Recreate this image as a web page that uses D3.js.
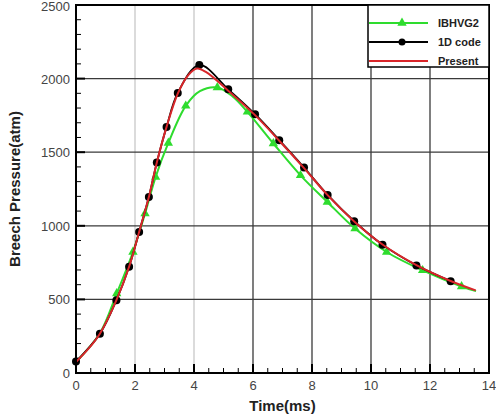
<!DOCTYPE html>
<html>
<head>
<meta charset="utf-8">
<script src="https://cdn.jsdelivr.net/npm/d3@7"></script>
<style>
  body { margin: 0; background: #fff; }
  text { font-family: Arial, "Liberation Sans", sans-serif; }
</style>
</head>
<body>
<script>
// series data (time in ms, pressure in atm)
var presentTime = [0, 0.4, 0.81, 1.37, 1.8, 2.14, 2.47, 2.74, 3.07, 3.45, 3.8, 4.1, 4.4, 5.16, 6.07, 6.89, 7.73, 8.53, 9.43, 10.39, 11.54, 12.7, 13.55];
var presentPressure = [75, 160, 267, 495, 722, 958, 1196, 1430, 1672, 1898, 2022, 2068, 2045, 1918, 1752, 1578, 1392, 1208, 1030, 873, 733, 625, 561];

var codeTime = [0, 0.81, 1.37, 1.8, 2.14, 2.47, 2.74, 3.07, 3.45, 4.18, 5.16, 6.07, 6.89, 7.73, 8.53, 9.43, 10.39, 11.54, 12.7];
var codePressure = [78, 267, 495, 722, 958, 1196, 1430, 1672, 1903, 2092, 1927, 1758, 1582, 1396, 1210, 1031, 872, 731, 624];

var ibhvgTime = [0, 0.81, 1.38, 1.93, 2.34, 2.7, 3.13, 3.72, 4.2, 4.79, 5.3, 5.81, 6.69, 7.61, 8.52, 9.46, 10.53, 11.75, 13.07, 13.56];
var ibhvgPressure = [75, 270, 540, 822, 1083, 1332, 1563, 1815, 1915, 1940, 1880, 1774, 1559, 1343, 1162, 981, 822, 697, 588, 556];
var ibhvgMarked = [2, 3, 4, 5, 6, 7, 9, 11, 12, 13, 14, 15, 16, 17, 18];

var xTicks = [0, 2, 4, 6, 8, 10, 12, 14];
var yTicks = [0, 500, 1000, 1500, 2000, 2500];
var legendNames = ['IBHVG2', '1D code', 'Present'];

var width = 496, height = 414;
var margin = {top: 5, right: 7, bottom: 41, left: 76};

var svg = d3.select('body').append('svg')
  .attr('width', width)
  .attr('height', height);

var x = d3.scaleLinear().domain([0, 14]).range([margin.left, width - margin.right]);
var y = d3.scaleLinear().domain([0, 2500]).range([height - margin.bottom, margin.top]);

// grid
svg.append('g').selectAll('line')
  .data(xTicks.slice(1, -1))
  .enter().append('line')
  .attr('x1', function(d) { return x(d); })
  .attr('x2', function(d) { return x(d); })
  .attr('y1', y(0)).attr('y2', y(2500))
  .attr('stroke', function(d) { return d < 5 ? '#c8c8c8' : '#3a3a3a'; })
  .attr('stroke-width', 1.3);

svg.append('g').selectAll('line')
  .data(yTicks.slice(1, -1))
  .enter().append('line')
  .attr('x1', x(0)).attr('x2', x(14))
  .attr('y1', function(d) { return y(d); })
  .attr('y2', function(d) { return y(d); })
  .attr('stroke', '#3a3a3a')
  .attr('stroke-width', 1.3);

// minor ticks (inside)
svg.append('g').selectAll('line')
  .data(d3.range(0, 14.01, 0.5))
  .enter().append('line')
  .attr('x1', function(d) { return x(d); })
  .attr('x2', function(d) { return x(d); })
  .attr('y1', y(0))
  .attr('y2', function(d) { return y(0) - (d % 2 === 0 ? 9 : 5); })
  .attr('stroke', '#000')
  .attr('stroke-width', function(d) { return d % 2 === 0 ? 2 : 1; });

svg.append('g').selectAll('line')
  .data(d3.range(0, 2501, 100))
  .enter().append('line')
  .attr('x1', x(0))
  .attr('x2', function(d) { return x(0) + (d % 500 === 0 ? 9 : 5); })
  .attr('y1', function(d) { return y(d); })
  .attr('y2', function(d) { return y(d); })
  .attr('stroke', '#000')
  .attr('stroke-width', function(d) { return d % 500 === 0 ? 2 : 1; });

// tick labels
svg.append('g').selectAll('text')
  .data(xTicks)
  .enter().append('text')
  .attr('x', function(d) { return x(d); })
  .attr('y', y(0) + 17)
  .attr('text-anchor', 'middle')
  .attr('font-size', 13)
  .attr('fill', '#444')
  .text(function(d) { return d; });

svg.append('g').selectAll('text')
  .data(yTicks)
  .enter().append('text')
  .attr('x', x(0) - 6)
  .attr('y', function(d) { return Math.max(y(d) + 5, 11); })
  .attr('text-anchor', 'end')
  .attr('font-size', 13)
  .attr('fill', '#444')
  .text(function(d) { return d; });

// axis titles
svg.append('text')
  .attr('x', (x(0) + x(14)) / 2)
  .attr('y', height - 3)
  .attr('text-anchor', 'middle')
  .attr('font-size', 15)
  .attr('font-weight', 'bold')
  .attr('fill', '#222')
  .text('Time(ms)');

svg.append('text')
  .attr('transform', 'translate(20,' + (y(0) + y(2500)) / 2 + ') rotate(-90)')
  .attr('text-anchor', 'middle')
  .attr('font-size', 15)
  .attr('font-weight', 'bold')
  .attr('fill', '#222')
  .text('Breech Pressure(atm)');

// lines
var line = d3.line()
  .x(function(d) { return x(d[0]); })
  .y(function(d) { return y(d[1]); })
  .curve(d3.curveCatmullRom.alpha(0.5));

var ibhvg = d3.zip(ibhvgTime, ibhvgPressure);
var code = d3.zip(codeTime, codePressure);
var present = d3.zip(presentTime, presentPressure);

var tri = d3.symbol().type(d3.symbolTriangle).size(38);

svg.append('path')
  .datum(ibhvg)
  .attr('d', line)
  .attr('fill', 'none')
  .attr('stroke', '#2edc2e')
  .attr('stroke-width', 2);

svg.append('g').selectAll('path')
  .data(ibhvgMarked.map(function(i) { return ibhvg[i]; }))
  .enter().append('path')
  .attr('d', tri)
  .attr('transform', function(d) { return 'translate(' + x(d[0]) + ',' + y(d[1]) + ')'; })
  .attr('fill', '#2edc2e');

svg.append('path')
  .datum(code)
  .attr('d', line)
  .attr('fill', 'none')
  .attr('stroke', '#000')
  .attr('stroke-width', 1.8);

svg.append('g').selectAll('circle')
  .data(code)
  .enter().append('circle')
  .attr('cx', function(d) { return x(d[0]); })
  .attr('cy', function(d) { return y(d[1]); })
  .attr('r', 4)
  .attr('fill', '#000');

svg.append('path')
  .datum(present)
  .attr('d', line)
  .attr('fill', 'none')
  .attr('stroke', '#d9262a')
  .attr('stroke-width', 2);

// frame
svg.append('rect')
  .attr('x', x(0)).attr('y', y(2500))
  .attr('width', x(14) - x(0))
  .attr('height', y(0) - y(2500))
  .attr('fill', 'none')
  .attr('stroke', '#000')
  .attr('stroke-width', 2);

// legend
var lx = 368, ly = y(2500), lw = x(14) - lx, lh = 62;
var legend = svg.append('g');
legend.append('rect')
  .attr('x', lx).attr('y', ly)
  .attr('width', lw).attr('height', lh)
  .attr('fill', '#fff')
  .attr('stroke', '#000')
  .attr('stroke-width', 1.5);

var legendColors = ['#2edc2e', '#000', '#d9262a'];
var rows = legend.selectAll('g')
  .data(legendNames)
  .enter().append('g')
  .attr('transform', function(d, i) { return 'translate(0,' + (ly + 18 + i * 19) + ')'; });

rows.append('line')
  .attr('x1', lx + 1).attr('x2', lx + 60)
  .attr('stroke', function(d, i) { return legendColors[i]; })
  .attr('stroke-width', 2);

rows.filter(function(d, i) { return i === 0; })
  .append('path')
  .attr('d', tri)
  .attr('transform', 'translate(' + (lx + 34) + ',0)')
  .attr('fill', legendColors[0]);

rows.filter(function(d, i) { return i === 1; })
  .append('circle')
  .attr('cx', lx + 34).attr('r', 3.5)
  .attr('fill', '#000');

rows.append('text')
  .attr('x', lx + 70)
  .attr('y', 4)
  .attr('font-size', 11)
  .attr('font-weight', 'bold')
  .attr('fill', '#222')
  .text(function(d) { return d; });
</script>
</body>
</html>
